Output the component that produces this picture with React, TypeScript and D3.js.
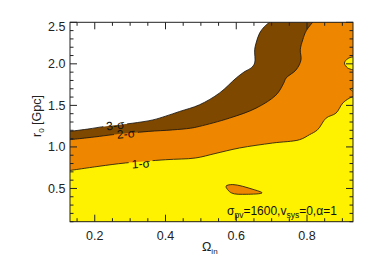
import React, { useEffect, useRef } from "react";
import * as d3 from "d3";

// axis ticks
const xTickValues = [0.2, 0.4, 0.6, 0.8];
const yTickValues = [0.5, 1.0, 1.5, 2.0, 2.5];

// contour boundaries, [Omega_in, r0 (Gpc)]
const sigma3Line = [
  [0.12, 1.182], [0.18, 1.215], [0.233, 1.25], [0.306, 1.285], [0.364, 1.325],
  [0.40, 1.37], [0.44, 1.427], [0.496, 1.507], [0.553, 1.65], [0.60, 1.83],
  [0.625, 1.91], [0.642, 1.95], [0.652, 2.01], [0.652, 2.17], [0.656, 2.25],
  [0.666, 2.37], [0.68, 2.45], [0.70, 2.52]
];
const sigma2Line = [
  [0.12, 1.083], [0.20, 1.12], [0.25, 1.147], [0.30, 1.167], [0.353, 1.187],
  [0.42, 1.205], [0.47, 1.225], [0.496, 1.247], [0.581, 1.347], [0.656, 1.467],
  [0.713, 1.627], [0.734, 1.767], [0.741, 1.83], [0.769, 1.927], [0.783, 2.047],
  [0.781, 2.17], [0.788, 2.29], [0.798, 2.40], [0.82, 2.52]
];
const sigma1Line = [
  [0.12, 0.71], [0.212, 0.767], [0.287, 0.807], [0.40, 0.846], [0.485, 0.867],
  [0.54, 0.92], [0.609, 0.987], [0.703, 1.047], [0.779, 1.087], [0.807, 1.147],
  [0.83, 1.207], [0.854, 1.347], [0.882, 1.407], [0.901, 1.527], [0.92, 1.587],
  [0.94, 1.62]
];
const edgeLobeA = [[0.94, 2.09], [0.916, 2.065], [0.906, 2.01], [0.915, 1.95], [0.94, 1.92]];
const edgeLobeB = [[0.94, 1.725], [0.923, 1.69], [0.94, 1.655]];
const islandLine = [
  [0.571, 0.527], [0.59, 0.547], [0.647, 0.49], [0.673, 0.447],
  [0.628, 0.43], [0.586, 0.447]
];

// contour labels: text, position, angle
const contourLabels = [
  { text: "3-σ", at: [0.258, 1.262], angle: -7 },
  { text: "2-σ", at: [0.288, 1.16], angle: -5 },
  { text: "1-σ", at: [0.33, 0.80], angle: -4 }
];

const W = 374, H = 267;
const left = 70, right = 353, top = 22.3, bottom = 221.7;
const yellow = "#FFF200", orange = "#EE8600", brown = "#7F4800";
const font = "'Liberation Sans', Arial, Helvetica, sans-serif";

export default function App() {
  const ref = useRef(null);

  useEffect(() => {
    const svg = d3.select(ref.current);
    svg.selectAll("*").remove();
    const x = d3.scaleLinear().domain([0.13, 0.93]).range([left, right]);
    const y = d3.scaleLinear().domain([0.1, 2.5]).range([bottom, top]);
    const line = d3.line().x(d => x(d[0])).y(d => y(d[1])).curve(d3.curveCatmullRom);
    const closed = d3.line().x(d => x(d[0])).y(d => y(d[1])).curve(d3.curveCatmullRomClosed);

    const X0 = x(0.12), X1 = x(0.94), Y0 = y(0.09), Y1 = y(2.52);

    const defs = svg.append("defs");
    defs.append("clipPath").attr("id", "plotClip")
      .append("rect").attr("x", left).attr("y", top)
      .attr("width", right - left).attr("height", bottom - top);

    const mask = defs.append("mask").attr("id", "labelGap")
      .attr("maskUnits", "userSpaceOnUse").attr("x", 0).attr("y", 0)
      .attr("width", W).attr("height", H);
    mask.append("rect").attr("width", W).attr("height", H).attr("fill", "white");
    contourLabels.forEach(l => {
      mask.append("rect")
        .attr("x", -12).attr("y", -4).attr("width", 24).attr("height", 8)
        .attr("fill", "black")
        .attr("transform", `translate(${x(l.at[0])},${y(l.at[1])}) rotate(${l.angle})`);
    });

    const plot = svg.append("g").attr("clip-path", "url(#plotClip)");
    plot.append("rect").attr("x", left).attr("y", top)
      .attr("width", right - left).attr("height", bottom - top).attr("fill", "white");

    // filled levels, outer to inner
    plot.append("path").attr("fill", brown)
      .attr("d", line(sigma3Line) + `L${X1},${Y1}L${X1},${Y0}L${X0},${Y0}Z`);
    plot.append("path").attr("fill", orange)
      .attr("d", line(sigma2Line) + `L${X1},${Y1}L${X1},${Y0}L${X0},${Y0}Z`);
    plot.append("path").attr("fill", yellow)
      .attr("d", line(sigma1Line) + `L${X1},${Y0}L${X0},${Y0}Z`);
    [edgeLobeA, edgeLobeB].forEach(lobe => {
      plot.append("path").attr("fill", yellow).attr("d", line(lobe) + "Z");
    });
    plot.append("path").attr("fill", orange).attr("d", closed(islandLine));

    // contour lines
    const lines = plot.append("g").attr("mask", "url(#labelGap)")
      .attr("fill", "none").attr("stroke", "#111").attr("stroke-width", 0.8);
    [sigma3Line, sigma2Line, sigma1Line].forEach(c => lines.append("path").attr("d", line(c)));
    [edgeLobeA, edgeLobeB].forEach(c => lines.append("path").attr("d", line(c)));
    lines.append("path").attr("d", closed(islandLine));

    contourLabels.forEach(l => {
      plot.append("text")
        .attr("transform", `translate(${x(l.at[0])},${y(l.at[1])}) rotate(${l.angle})`)
        .attr("text-anchor", "middle").attr("dy", "0.36em")
        .attr("font-family", font).attr("font-size", 12).attr("fill", "#111")
        .text(l.text);
    });

    // frame and ticks
    const axes = svg.append("g").attr("stroke", "#222").attr("stroke-width", 1);
    axes.append("rect").attr("x", left).attr("y", top)
      .attr("width", right - left).attr("height", bottom - top).attr("fill", "none");

    const xMinor = d3.range(0.15, 0.93, 0.05).filter(v => !xTickValues.some(t => Math.abs(t - v) < 1e-6));
    const yMinor = d3.range(0.1, 2.5, 0.1).filter(v => !yTickValues.some(t => Math.abs(t - v) < 1e-6));

    const xt = (vals, len) => vals.forEach(v => {
      axes.append("line").attr("x1", x(v)).attr("x2", x(v)).attr("y1", bottom).attr("y2", bottom - len);
      axes.append("line").attr("x1", x(v)).attr("x2", x(v)).attr("y1", top).attr("y2", top + len);
    });
    const yt = (vals, len) => vals.forEach(v => {
      axes.append("line").attr("y1", y(v)).attr("y2", y(v)).attr("x1", left).attr("x2", left + len);
      axes.append("line").attr("y1", y(v)).attr("y2", y(v)).attr("x1", right).attr("x2", right - len);
    });
    xt(xTickValues, 7); xt(xMinor, 3.5);
    yt(yTickValues, 7); yt(yMinor, 3.5);

    const labels = svg.append("g").attr("font-family", font).attr("font-size", 12.5).attr("fill", "#222");
    xTickValues.forEach(v => {
      labels.append("text").attr("x", x(v)).attr("y", bottom + 18)
        .attr("text-anchor", "middle").text(d3.format(".1f")(v));
    });
    yTickValues.forEach(v => {
      labels.append("text").attr("x", left - 4.5).attr("y", Math.max(y(v), top + 4))
        .attr("dy", "0.36em").attr("text-anchor", "end").text(d3.format(".1f")(v));
    });

    // axis titles
    const xTitle = labels.append("text").attr("x", 202).attr("y", 251);
    xTitle.append("tspan").text("Ω");
    xTitle.append("tspan").attr("font-size", 8).attr("dy", 3).text("in");

    const yTitle = labels.append("text").attr("text-anchor", "middle")
      .attr("transform", `translate(41,116) rotate(-90)`);
    yTitle.append("tspan").text("r");
    yTitle.append("tspan").attr("font-size", 8).attr("dy", 3).text("0");
    yTitle.append("tspan").attr("dy", -3).text(" [Gpc]");

    // run parameters
    const note = labels.append("text").attr("x", 227).attr("y", 215)
      .attr("font-size", 12).attr("fill", "#111");
    note.append("tspan").text("σ");
    note.append("tspan").attr("font-size", 8.5).attr("dy", 3).text("pv");
    note.append("tspan").attr("dy", -3).text("=1600,v");
    note.append("tspan").attr("font-size", 8.5).attr("dy", 3).text("sys");
    note.append("tspan").attr("dy", -3).text("=0,α=1");
  }, []);

  return (
    <svg ref={ref} width={W} height={H}
      style={{ position: "absolute", left: 0, top: 0, background: "white" }} />
  );
}
